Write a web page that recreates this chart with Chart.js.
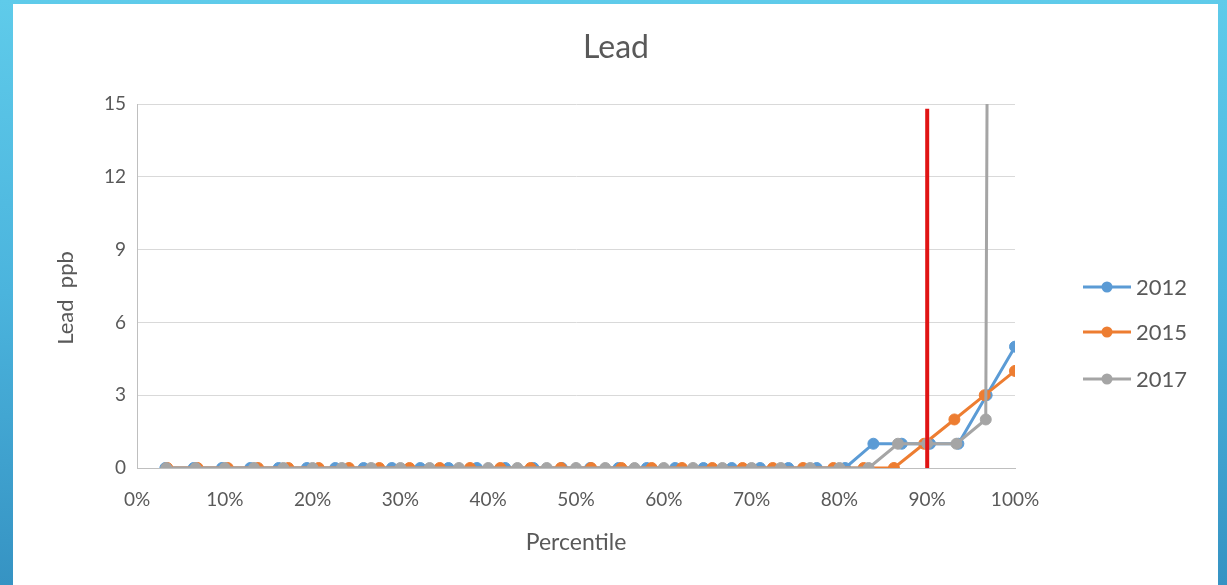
<!DOCTYPE html>
<html>
<head>
<meta charset="utf-8">
<title>Lead</title>
<script src="https://cdn.jsdelivr.net/npm/chart.js@4.4.1/dist/chart.umd.min.js"></script>
<style>
  html, body { margin: 0; padding: 0; }
  body {
    width: 1227px; height: 585px; overflow: hidden; position: relative;
    background: linear-gradient(to bottom, #5FCBEA 0%, #4BB4DD 50%, #3693C3 100%);
  }
  #panel {
    position: absolute; left: 13px; top: 4px; width: 1205px; height: 581px;
    background: #ffffff;
  }
  canvas { display: block; }
</style>
</head>
<body>
<div id="panel"><canvas id="chart" width="1205" height="581"></canvas></div>
<script>
// Percentile rank of each sample (x) and lead concentration in ppb (y), per sampling year
const pct2012 = [3.23, 6.45, 9.68, 12.90, 16.13, 19.35, 22.58, 25.81, 29.03, 32.26, 35.48, 38.71, 41.94, 45.16, 48.39, 51.61, 54.84, 58.06, 61.29, 64.52, 67.74, 70.97, 74.19, 77.42, 80.65, 83.87, 87.10, 90.32, 93.55, 96.77, 100];
const lead2012 = [0, 0, 0, 0, 0, 0, 0, 0, 0, 0, 0, 0, 0, 0, 0, 0, 0, 0, 0, 0, 0, 0, 0, 0, 0, 1, 1, 1, 1, 3, 5];

const pct2015 = [3.45, 6.90, 10.34, 13.79, 17.24, 20.69, 24.14, 27.59, 31.03, 34.48, 37.93, 41.38, 44.83, 48.28, 51.72, 55.17, 58.62, 62.07, 65.52, 68.97, 72.41, 75.86, 79.31, 82.76, 86.21, 89.66, 93.10, 96.55, 100];
const lead2015 = [0, 0, 0, 0, 0, 0, 0, 0, 0, 0, 0, 0, 0, 0, 0, 0, 0, 0, 0, 0, 0, 0, 0, 0, 0, 1, 2, 3, 4];

const pct2017 = [3.33, 6.67, 10, 13.33, 16.67, 20, 23.33, 26.67, 30, 33.33, 36.67, 40, 43.33, 46.67, 50, 53.33, 56.67, 60, 63.33, 66.67, 70, 73.33, 76.67, 80, 83.33, 86.67, 90, 93.33, 96.67, 100];
const lead2017 = [0, 0, 0, 0, 0, 0, 0, 0, 0, 0, 0, 0, 0, 0, 0, 0, 0, 0, 0, 0, 0, 0, 0, 0, 0, 1, 1, 1, 2, 300];

// 90th percentile marker
const markerPct = [90, 90];
const markerLead = [0, 14.8];

const seriesNames = ['2012', '2015', '2017'];
const seriesColors = ['#5B9BD5', '#ED7D31', '#A5A5A5'];
const yTicks = [0, 3, 6, 9, 12, 15];

const FONT = 'Lato, "Open Sans", "DejaVu Sans", sans-serif';
const TEXT = '#595959';

function toPoints(xs, ys) {
  return xs.map((x, i) => ({ x: x, y: ys[i] }));
}

function seriesDataset(idx, xs, ys, order) {
  return {
    label: seriesNames[idx],
    data: toPoints(xs, ys),
    borderColor: seriesColors[idx],
    backgroundColor: seriesColors[idx],
    pointBackgroundColor: seriesColors[idx],
    pointBorderColor: seriesColors[idx],
    borderWidth: 3,
    pointRadius: 5.5,
    pointBorderWidth: 1,
    tension: 0,
    order: order
  };
}

// Chart title centred on the whole panel, and the vertical axis title
const headings = {
  id: 'headings',
  afterDraw(chart) {
    const ctx = chart.ctx;
    ctx.save();
    ctx.fillStyle = TEXT;
    ctx.textAlign = 'center';
    ctx.textBaseline = 'middle';
    ctx.font = '32px ' + FONT;
    ctx.fillText('Lead', 603, 44);
    ctx.translate(53, 294);
    ctx.rotate(-Math.PI / 2);
    ctx.font = '22px ' + FONT;
    ctx.fillText('Lead  ppb', 0, 0);
    ctx.restore();
  }
};

// Legend drawn to the right of the plot: a line with a round marker, then the year
const sideLegend = {
  id: 'sideLegend',
  afterDraw(chart) {
    const ctx = chart.ctx;
    const rows = [283, 328, 375];
    ctx.save();
    seriesNames.forEach((name, i) => {
      const y = rows[i];
      ctx.strokeStyle = seriesColors[i];
      ctx.lineWidth = 3;
      ctx.beginPath();
      ctx.moveTo(1070, y);
      ctx.lineTo(1118, y);
      ctx.stroke();
      ctx.fillStyle = seriesColors[i];
      ctx.beginPath();
      ctx.arc(1094, y, 5.5, 0, Math.PI * 2);
      ctx.fill();
      ctx.fillStyle = TEXT;
      ctx.font = '22px ' + FONT;
      ctx.textAlign = 'left';
      ctx.textBaseline = 'middle';
      ctx.fillText(name, 1123, y + 1);
    });
    ctx.restore();
  }
};

new Chart(document.getElementById('chart'), {
  type: 'line',
  data: {
    datasets: [
      seriesDataset(0, pct2012, lead2012, 3),
      seriesDataset(1, pct2015, lead2015, 2),
      seriesDataset(2, pct2017, lead2017, 1),
      {
        label: '90th percentile',
        data: toPoints(markerPct, markerLead),
        borderColor: '#E01414',
        borderWidth: 4,
        pointRadius: 0,
        order: 0
      }
    ]
  },
  options: {
    responsive: false,
    animation: false,
    events: [],
    layout: { padding: { left: 0, right: 203, top: 100, bottom: 0 } },
    plugins: {
      legend: { display: false },
      tooltip: { enabled: false },
      title: { display: false }
    },
    scales: {
      x: {
        type: 'linear',
        min: 0,
        max: 100,
        grid: { display: false, drawTicks: false },
        border: { display: true, color: '#BFBFBF', width: 1 },
        ticks: {
          stepSize: 10,
          padding: 20,
          color: TEXT,
          font: { family: FONT, size: 19 },
          callback: (v) => v + '%'
        },
        title: {
          display: true,
          text: 'Percentile',
          color: TEXT,
          font: { family: FONT, size: 23 },
          padding: { top: 0, bottom: 29 }
        },
        afterFit(scale) { scale.height = 117; }
      },
      y: {
        min: 0,
        max: 15,
        grid: { color: '#D9D9D9', lineWidth: 1, drawTicks: false },
        border: { display: true, color: '#BFBFBF', width: 1 },
        afterBuildTicks(scale) { scale.ticks = yTicks.map(v => ({ value: v })); },
        ticks: {
          padding: 11,
          color: TEXT,
          font: { family: FONT, size: 19 }
        },
        title: { display: false },
        afterFit(scale) { scale.width = 124; }
      }
    }
  },
  plugins: [headings, sideLegend]
});
</script>
</body>
</html>
